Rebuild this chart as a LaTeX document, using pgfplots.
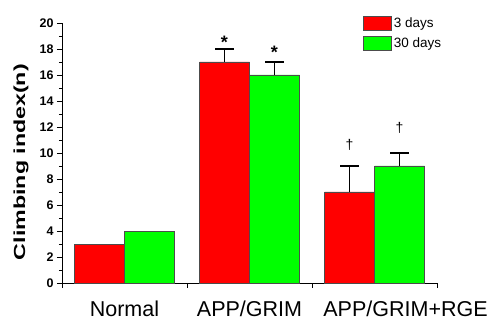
\documentclass[border=0pt]{standalone}
\usepackage{pgfplots}
\pgfplotsset{compat=1.18}
\usepackage{fontspec}
\setmainfont{Liberation Sans}
\definecolor{bred}{RGB}{255,0,0}
\definecolor{bgreen}{RGB}{0,255,0}
\pgfplotsset{
  mybar/.style={ybar, bar width=0.4, bar shift=0, draw=black!70, line width=0.6pt,
    legend image code/.code={\draw[##1, line width=0.6pt] (0pt,-7pt) rectangle (28pt,7pt);}},
  myerr/.style={error bars/.cd, y dir=plus, y explicit,
    error bar style={black, line width=1.1pt},
    error mark options={black, line width=1.1pt, mark size=9.5pt, rotate=90}},
}
\begin{document}
\begin{tikzpicture}
\useasboundingbox (-62pt,-37pt) rectangle (428pt,283pt);
\begin{axis}[
  scale only axis, width=375pt, height=260pt,
  xmin=-0.5, xmax=2.5, ymin=0, ymax=20,
  axis x line=bottom, axis y line=left,
  axis line style={-, black, line width=0.8pt},
  tick style={black, line width=0.8pt},
  tick align=outside,
  major tick length=5pt, minor tick length=3pt,
  ytick={0,2,...,20}, minor y tick num=1,
  xtick={-0.5,0.5,1.5,2.5}, xticklabels={},
  extra x ticks={0,1,2.248},
  extra x tick labels={Normal,APP/GRIM,APP/GRIM+RGE},
  extra x tick style={major tick length=0pt},
  x tick label style={font=\fontsize{21.5}{24}\selectfont, anchor=base, yshift=-34pt},
  y tick label style={font=\fontsize{12.5}{14}\selectfont\bfseries},
  /pgf/number format/assume math mode=true,
  ylabel={\scalebox{1.45}[1]{Climbing index(n)}},
  ylabel style={font=\fontsize{16}{18}\selectfont\bfseries, at={(axis description cs:-0.109,0.465)}, anchor=center},
  legend style={at={(axis description cs:0.795,1.038)}, anchor=north west,
    draw=none, fill=none, font=\fontsize{13.5}{16}\selectfont, row sep=5pt},
  legend cell align=left,
  clip=false,
]
\addplot[mybar, fill=bred, myerr] coordinates {(0.8,17) +- (0,1) (1.8,7) +- (0,2)};
\addlegendentry{3 days}
\addplot[mybar, fill=bgreen, myerr] coordinates {(1.2,16) +- (0,1) (2.2,9) +- (0,1)};
\addlegendentry{30 days}
\addplot[mybar, fill=bred, forget plot] coordinates {(-0.2,3)};
\addplot[mybar, fill=bgreen, forget plot] coordinates {(0.2,4)};
\node[font=\fontsize{18}{20}\selectfont\bfseries, anchor=base] at (axis cs:0.8,18.05) {*};
\node[font=\fontsize{18}{20}\selectfont\bfseries, anchor=base] at (axis cs:1.2,17.3) {*};
\node[font=\fontsize{14}{16}\selectfont] at (axis cs:1.8,10.6) {†};
\node[font=\fontsize{14}{16}\selectfont] at (axis cs:2.2,11.9) {†};
\end{axis}
\end{tikzpicture}
\end{document}
